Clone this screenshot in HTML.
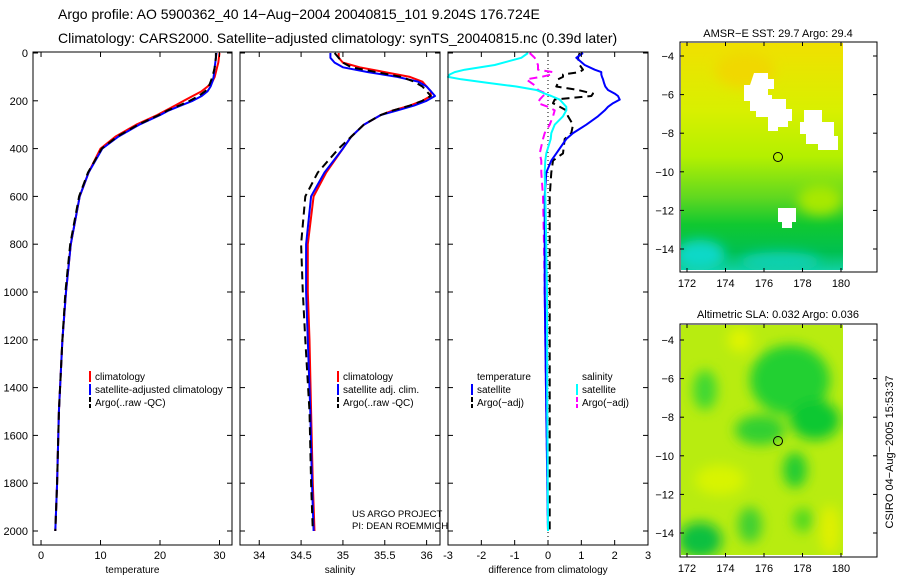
<!DOCTYPE html>
<html><head><meta charset="utf-8"><style>
body{margin:0;background:#fff;}
svg{display:block;font-family:"Liberation Sans",sans-serif;}
</style></head><body>
<svg id="c" width="900" height="580" xmlns="http://www.w3.org/2000/svg">
<defs>
<linearGradient id="sstg" x1="0" y1="0" x2="0" y2="1">
<stop offset="0" stop-color="#f0e000"/><stop offset="0.3" stop-color="#d8f000"/><stop offset="0.5" stop-color="#b4f000"/><stop offset="0.68" stop-color="#60d820"/><stop offset="0.8" stop-color="#10c830"/><stop offset="0.92" stop-color="#00c050"/><stop offset="1" stop-color="#10d0a0"/>
</linearGradient>
<filter id="blr"><feGaussianBlur stdDeviation="6"/></filter>
<clipPath id="m1c"><rect x="681" y="43" width="162" height="227"/></clipPath>
<clipPath id="m2c"><rect x="681" y="325" width="162" height="230"/></clipPath>
</defs>
<text x="58" y="19" font-size="14">Argo profile: AO 5900362_40 14−Aug−2004 20040815_101 9.204S 176.724E</text>
<text x="58" y="43" font-size="14">Climatology: CARS2000. Satellite−adjusted climatology: synTS_20040815.nc (0.39d later)</text>
<g id="plots"></g>
<g>
<text x="778" y="37" font-size="11" text-anchor="middle">AMSR−E SST: 29.7 Argo: 29.4</text>
<g clip-path="url(#m1c)">
<rect x="681" y="43" width="162" height="227" fill="url(#sstg)"/>
<g filter="url(#blr)">
<ellipse cx="745" cy="70" rx="30" ry="18" fill="#f0d800"/>
<ellipse cx="700" cy="255" rx="25" ry="15" fill="#10d8c8"/>
<ellipse cx="780" cy="262" rx="40" ry="10" fill="#10d0b0"/>
<ellipse cx="820" cy="200" rx="22" ry="15" fill="#a8e800"/>
</g>
<g fill="#fff">
<path d="M754 73h14v6h6v10h-6v6h4v4h14v10h6v12h-4v6h-10v4h-10v-14h-12v-6h-6v-10h-6v-16h6z"/>
<path d="M804 110h18v12h-4v-4h0v4h16v14h4v14h-20v-6h-12v-10h-6v-12h4z"/>
<path d="M778 208h18v14h-4v6h-10v-6h-4z"/>
</g>
</g>
<rect x="680" y="42" width="197" height="230" fill="none" stroke="#000"/>
<circle cx="778" cy="157" r="4.5" fill="none" stroke="#000"/>
<g id="m1ax"></g>
</g>
<g>
<text x="778" y="318" font-size="11" text-anchor="middle">Altimetric SLA: 0.032 Argo: 0.036</text>
<g clip-path="url(#m2c)">
<rect x="681" y="325" width="162" height="230" fill="#b8ec10"/>
<g filter="url(#blr)">
<ellipse cx="790" cy="380" rx="40" ry="35" fill="#20d030"/>
<ellipse cx="815" cy="420" rx="25" ry="20" fill="#10c830"/>
<ellipse cx="760" cy="430" rx="25" ry="15" fill="#30d030"/>
<ellipse cx="705" cy="390" rx="12" ry="20" fill="#40d830"/>
<ellipse cx="795" cy="470" rx="12" ry="18" fill="#20cc30"/>
<ellipse cx="700" cy="540" rx="22" ry="18" fill="#10c040"/>
<ellipse cx="750" cy="525" rx="12" ry="18" fill="#40d030"/>
<ellipse cx="803" cy="520" rx="10" ry="12" fill="#50d820"/>
<ellipse cx="830" cy="530" rx="10" ry="25" fill="#e0f000"/>
<ellipse cx="720" cy="480" rx="25" ry="15" fill="#d8f400"/>
<ellipse cx="740" cy="340" rx="12" ry="12" fill="#e0f400"/>
</g>
</g>
<rect x="680" y="324" width="197" height="233" fill="none" stroke="#000"/>
<circle cx="778" cy="441" r="4.5" fill="none" stroke="#000"/>
<g id="m2ax"></g>
</g>
<text transform="translate(893,452) rotate(-90)" font-size="11" text-anchor="middle">CSIRO 04−Aug−2005 15:53:37</text>
</svg>
<script>
const NS="http://www.w3.org/2000/svg";
const depth=[0,20,40,60,80,100,120,140,160,180,200,220,240,260,300,350,400,500,600,800,1000,1200,1500,1800,2000];
const tempClim=[30.0,29.9,29.8,29.6,29.4,29.2,28.8,28.0,27.0,25.5,24.0,22.5,21.0,19.5,16.0,12.5,10.0,8.0,6.5,5.0,4.2,3.6,3.0,2.7,2.4];
const tempSat=[29.5,29.4,29.3,29.2,29.1,29.0,28.8,28.5,28.0,27.0,25.5,23.5,21.5,20.0,16.5,13.0,10.3,8.0,6.5,5.0,4.2,3.6,3.0,2.7,2.4];
const tempArgo=[29.4,29.4,29.3,29.2,29.0,28.8,28.5,28.2,27.6,26.5,25.0,23.2,21.3,19.8,16.3,12.8,10.2,7.9,6.4,4.9,4.1,3.6,3.0,2.7,2.4];
const salClim=[34.95,34.95,35.0,35.2,35.5,35.8,35.95,36.0,36.05,36.05,35.95,35.8,35.6,35.45,35.25,35.1,35.0,34.8,34.65,34.58,34.58,34.6,34.62,34.64,34.66];
const salSat=[34.85,34.85,34.9,35.0,35.3,35.65,35.9,36.0,36.05,36.1,36.0,35.85,35.65,35.45,35.25,35.1,35.0,34.78,34.62,34.56,34.56,34.58,34.61,34.63,34.65];
const salArgo=[34.9,34.95,35.0,35.1,35.4,35.7,35.85,35.95,36.0,36.05,35.95,35.8,35.6,35.45,35.25,35.1,34.95,34.7,34.55,34.5,34.52,34.55,34.6,34.62,34.64];
const ddepth=[0,20,50,70,80,90,100,110,125,140,155,170,180,195,210,225,240,265,300,335,360,420,450,500,600,800,1000,1500,2000];
const dTempSat=[1.05,0.85,1.1,1.4,1.6,1.6,1.62,1.65,1.68,1.72,1.8,2.0,2.1,2.15,1.95,1.8,1.7,1.5,1.15,0.75,0.55,0.25,0.1,-0.05,-0.1,-0.1,-0.1,-0.05,0];
const dTempArgo=[0.95,0.9,0.95,1.05,0.95,0.45,0.45,0.3,0.3,0.25,0.9,1.35,1.3,0.2,0.15,0.35,0.55,0.6,0.75,0.7,0.5,0.45,0.15,0.1,0.05,0.05,0.05,0.05,0.05];
const dSalSat=[-0.6,-0.8,-1.6,-2.5,-2.8,-2.95,-3.0,-2.6,-1.8,-0.95,-0.35,-0.1,0.1,0.35,0.45,0.55,0.55,0.45,0.2,0.1,0.08,-0.05,-0.08,-0.1,-0.08,-0.05,-0.03,-0.02,0];
const dSalArgo=[-0.55,-0.4,-0.3,-0.3,0.15,0.1,-0.2,-0.65,-0.5,-0.35,-0.3,-0.05,-0.15,-0.25,-0.3,0.0,0.2,0.15,0.05,-0.1,-0.15,-0.25,-0.2,-0.2,-0.15,-0.12,-0.1,-0.05,0];
const depthTicks=[0,200,400,600,800,1000,1200,1400,1600,1800,2000];
const tempTicks=[0,10,20,30], salTicks=[34,34.5,35,35.5,36], diffTicks=[-3,-2,-1,0,1,2,3];
const lonTicks=[172,174,176,178,180], latTicks=[-4,-6,-8,-10,-12,-14];

const Y0=52,Y1=545;
const yD=d=>53+d*0.239;
const svg=document.getElementById('plots');
function mk(tag,attrs,parent){const e=document.createElementNS(NS,tag);for(const k in attrs)e.setAttribute(k,attrs[k]);(parent||svg).appendChild(e);return e;}
function txt(x,y,s,size,anchor,parent){const t=mk('text',{x:x,y:y,'font-size':size,'text-anchor':anchor||'start'},parent);t.textContent=s;return t;}

const panels=[
 {name:'temperature',x0:33,x1:232,lo:-1.35,hi:32.1,ticks:tempTicks,label:'temperature',
  series:[[tempClim,'#f00',null,'climatology-line'],[tempSat,'#00f',null,'satellite-line'],[tempArgo,'#000','8,5','argo-line']]},
 {name:'salinity',x0:240,x1:440,lo:33.77,hi:36.16,ticks:salTicks,label:'salinity',
  series:[[salClim,'#f00',null,'climatology-line'],[salSat,'#00f',null,'satellite-line'],[salArgo,'#000','8,5','argo-line']]},
 {name:'difference',x0:448,x1:648,lo:-3,hi:3,ticks:diffTicks,label:'difference from climatology',
  series:[[dTempArgo,'#000','8,5','temp-argo-diff-line',ddepth],[dSalArgo,'#f0f','8,5','sal-argo-diff-line',ddepth],[dTempSat,'#00f',null,'temp-satellite-diff-line',ddepth],[dSalSat,'#0ff',null,'sal-satellite-diff-line',ddepth]]}
];
panels.forEach((p,pi)=>{
  const g=mk('g',{});
  
  
  const xs=v=>p.x0+(v-p.lo)/(p.hi-p.lo)*(p.x1-p.x0);
  if(pi===2){
    const z=mk('line',{x1:xs(0),x2:xs(0),y1:Y0,y2:Y1,stroke:'#000','stroke-dasharray':'1,3'},g);
    
    
  }
  p.series.forEach(s=>{
    const dd=s[4]||depth;
    const pts=s[0].map((v,i)=>xs(v).toFixed(1)+','+yD(dd[i]).toFixed(1)).join(' ');
    const pl=mk('polyline',{points:pts,fill:'none',stroke:s[1],'stroke-width':2,'stroke-linejoin':'round'},g);
    if(s[2])pl.setAttribute('stroke-dasharray',s[2]);
    
    
  });
  const fr=mk('rect',{x:p.x0,y:Y0,width:p.x1-p.x0,height:Y1-Y0,fill:'none',stroke:'#000'},g);
  
  
  p.ticks.forEach(t=>{
    const x=xs(t);
    mk('line',{x1:x,x2:x,y1:Y1,y2:Y1-5,stroke:'#000'},g);
    mk('line',{x1:x,x2:x,y1:Y0,y2:Y0+5,stroke:'#000'},g);
    const lt=txt(x,559,String(t),11,'middle',g);
    
    
  });
  depthTicks.forEach(d=>{
    mk('line',{x1:p.x0,x2:p.x0+5,y1:yD(d),y2:yD(d),stroke:'#000'},g);
    mk('line',{x1:p.x1,x2:p.x1-5,y1:yD(d),y2:yD(d),stroke:'#000'},g);
    if(pi===0){
      const lt=txt(28,yD(d)+4,String(d),11,'end',g);
      
      
    }
  });
  const xl=txt((p.x0+p.x1)/2,573,p.label,10,'middle',g);
  
  
});
function legend(x,y,items){
  const g=mk('g',{});
  
  
  items.forEach((it,i)=>{
    const yy=y+i*13;
    if(it[1]){const l=mk('line',{x1:x,x2:x,y1:yy-9,y2:yy+2,stroke:it[1],'stroke-width':2},g);
      if(it[2])l.setAttribute('stroke-dasharray','5,2');}
    const t=txt(x+5,yy,it[0],10,'start',g);
    
    
  });
}
legend(90,380,[['climatology','#f00'],['satellite-adjusted climatology','#00f'],['Argo(..raw -QC)','#000',1]]);
legend(338,380,[['climatology','#f00'],['satellite adj. clim.','#00f'],['Argo(..raw -QC)','#000',1]]);
legend(472,380,[['temperature',null],['satellite','#00f'],['Argo(−adj)','#000',1]]);
legend(577,380,[['salinity',null],['satellite','#0ff'],['Argo(−adj)','#f0f',1]]);
const cr=txt(352,517,'US ARGO PROJECT',9.5);


const cr2=txt(352,529,'PI: DEAN ROEMMICH',9.5);


function mapAxes(id,y0,y1,latY){
  const g=document.getElementById(id);
  const lx=v=>687+(v-172)*19.25;
  lonTicks.forEach(v=>{
    mk('line',{x1:lx(v),x2:lx(v),y1:y1,y2:y1-4,stroke:'#000'},g);
    mk('line',{x1:lx(v),x2:lx(v),y1:y0,y2:y0+4,stroke:'#000'},g);
    const t=txt(lx(v),y1+15,String(v),11,'middle',g);
    
    
  });
  latTicks.forEach(v=>{
    const y=latY+(-4-v)*19.3;
    mk('line',{x1:680,x2:684,y1:y,y2:y,stroke:'#000'},g);
    mk('line',{x1:877,x2:873,y1:y,y2:y,stroke:'#000'},g);
    const t=txt(674,y+4,String(v).replace('-','−'),11,'end',g);
    
    
  });
}
mapAxes('m1ax',42,272,56);
mapAxes('m2ax',324,557,340);
</script>
</body></html>
